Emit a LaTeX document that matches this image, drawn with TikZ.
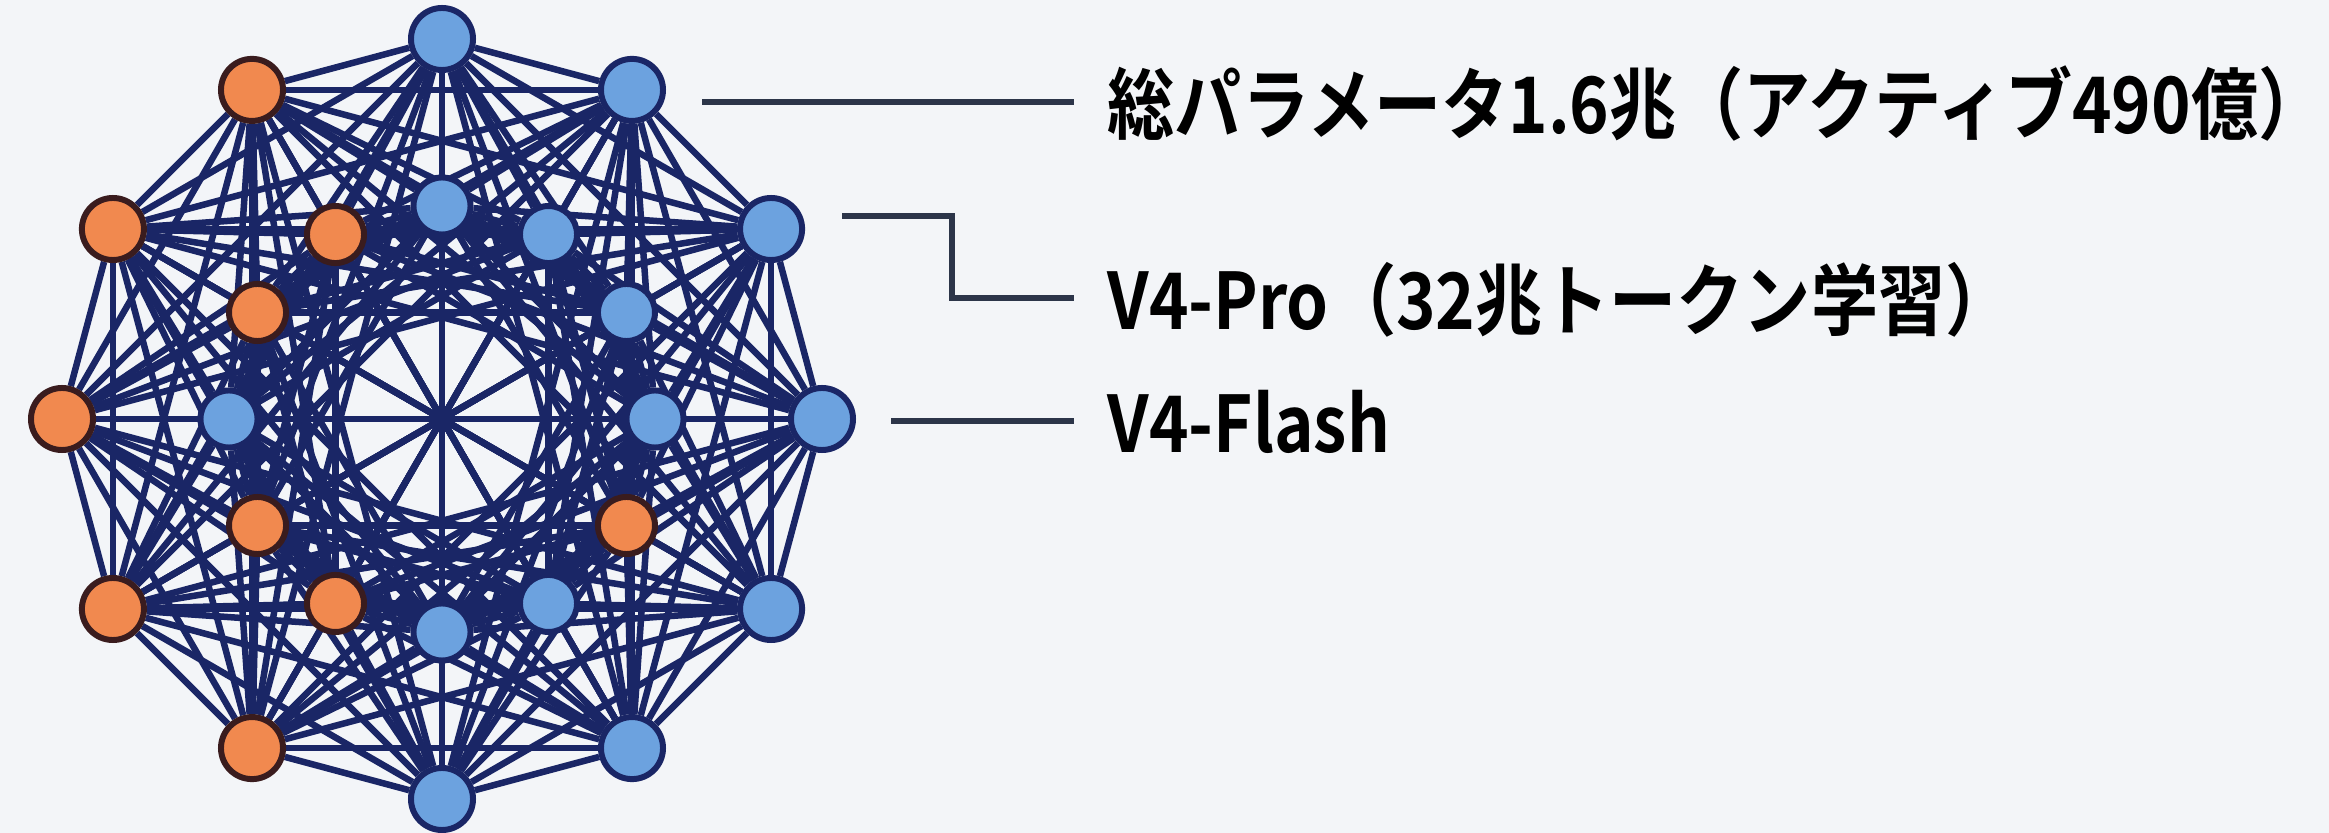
\documentclass[tikz,border=0pt]{standalone}
\usepackage{fontspec}
\newfontfamily\jpfont{Noto Sans CJK JP Bold}[FakeStretch=0.86]
\usetikzlibrary{calc}
\definecolor{navy}{HTML}{1A2666}
\definecolor{skyfill}{HTML}{6CA2DF}
\definecolor{orfill}{HTML}{F1894F}
\definecolor{orline}{HTML}{3A1C1E}
\definecolor{paper}{HTML}{F3F5F8}
\definecolor{leader}{HTML}{2C3549}
\pgfdeclarelayer{bg}
\pgfsetlayers{bg,main}

\begin{document}
\begin{tikzpicture}[x=0.01cm,y=0.01cm,
  link/.style={navy, line width=1.85pt},
  hub/.style={circle, inner sep=0, line width=1.7pt},
  outerblue/.style={hub, minimum size=0.62cm, draw=navy, fill=skyfill},
  outerorange/.style={hub, minimum size=0.62cm, draw=orline, fill=orfill},
  innerblue/.style={hub, minimum size=0.57cm, draw=navy, fill=skyfill},
  innerorange/.style={hub, minimum size=0.57cm, draw=orline, fill=orfill},
  leadline/.style={leader, line width=1.5pt},
  tag/.style={anchor=west, inner xsep=0.33cm, inner ysep=0, text height=0.68cm, text depth=0.06cm,
    font=\jpfont\fontsize{22.2}{26}\selectfont, text=black}]
\useasboundingbox (0,0) rectangle (2329,833);
\coordinate (c) at (442,414);
\foreach \k/\s in {0/outerblue,1/outerblue,2/outerblue,3/outerblue,4/outerorange,5/outerorange,
  6/outerorange,7/outerorange,8/outerorange,9/outerblue,10/outerblue,11/outerblue}
  \node[\s] (o\k) at ($(c)+(30*\k:380)$) {};
\foreach \k/\s in {0/innerblue,1/innerblue,2/innerblue,3/innerblue,4/innerorange,5/innerorange,
  6/innerblue,7/innerorange,8/innerorange,9/innerblue,10/innerblue,11/innerorange}
  \node[\s] (i\k) at ($(c)+(30*\k:213)$) {};

\begin{pgfonlayer}{bg}
\fill[paper] (0,0) rectangle (2329,833);
\foreach \p in {0,...,10} {
  \pgfmathtruncatemacro\q{\p+1}
  \foreach \r in {\q,...,11} {
    \draw[link] (o\p) -- (o\r);
    \pgfmathtruncatemacro\d{\r-\p}
    \ifnum\d=5 \else\ifnum\d=7 \else \draw[link] (i\p) -- (i\r);\fi\fi
  }
}
\foreach \p in {0,...,11} {
  \foreach \r in {0,...,11} {
    \pgfmathtruncatemacro\d{mod(\p-\r+12,12)}
    \ifnum\d=5 \else\ifnum\d=7 \else \draw[link] (i\p) -- (o\r);\fi\fi
  }
}
\end{pgfonlayer}

\node[tag] (total) at (1074,731) {総パラメータ1.6兆（アクティブ490億）};
\node[tag] (pro) at (1074,535) {V4-Pro（32兆トークン学習）};
\node[tag] (flash) at (1074,412) {V4-Flash};
\coordinate (p1) at (702,731);
\coordinate (p2) at (842,617);
\coordinate (p3) at (891,412);
\draw[leadline] (p1) -- (total.west);
\draw[leadline] (p2) -- ++(110,0) |- (pro.west);
\draw[leadline] (p3) -- (flash.west);
\end{tikzpicture}
\end{document}
